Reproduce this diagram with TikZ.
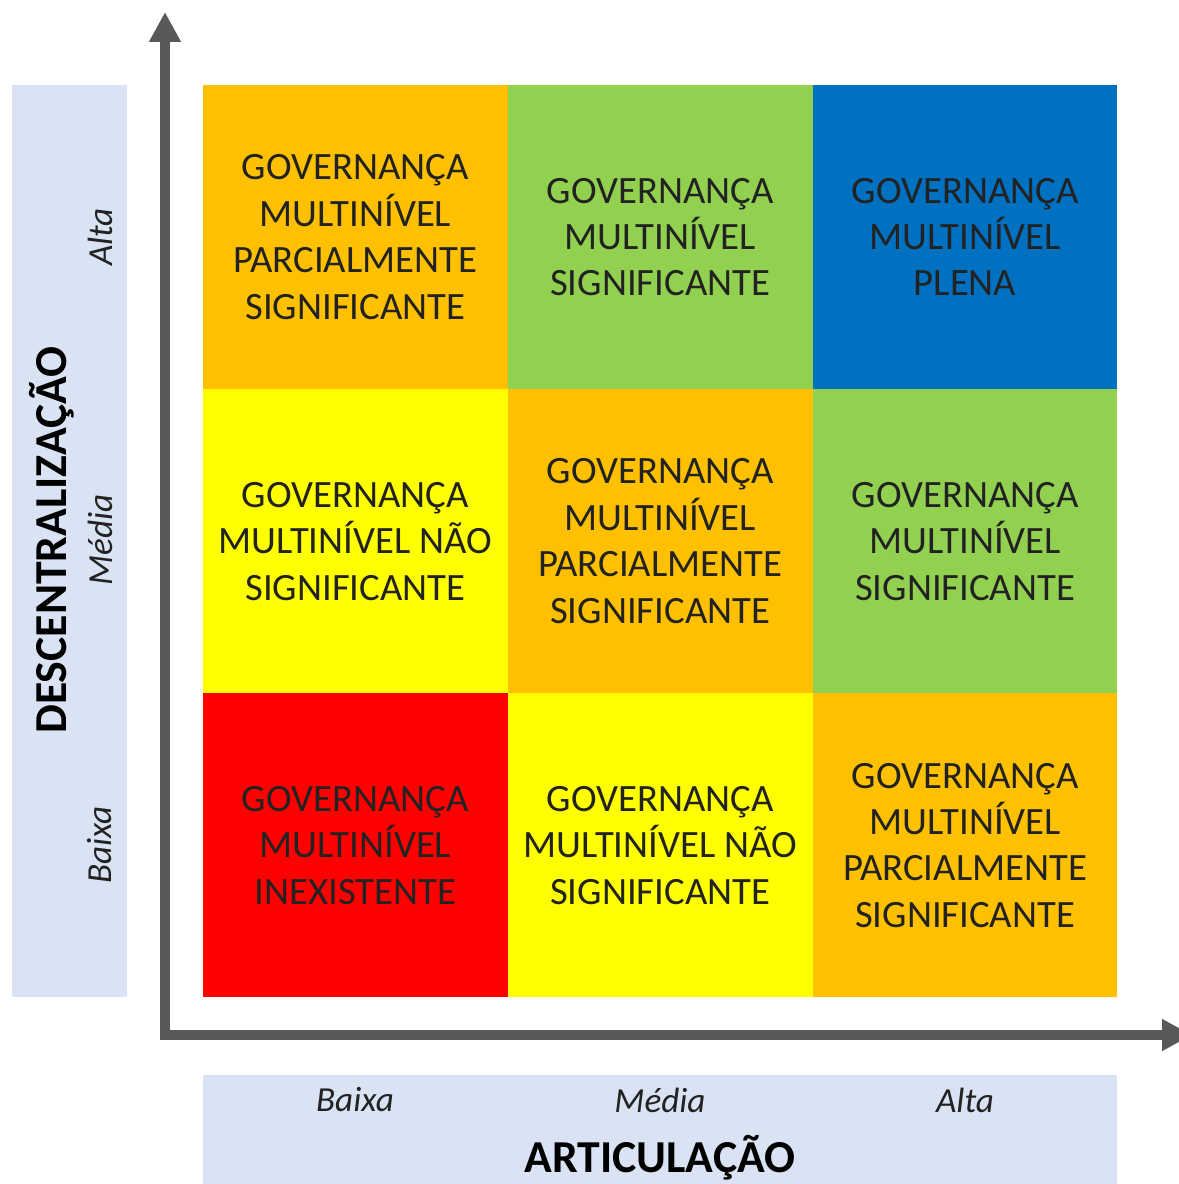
\documentclass[tikz,border=0pt]{standalone}
\usepackage{fontspec}
\setmainfont{Carlito}
\usetikzlibrary{arrows.meta,positioning}
\definecolor{laranja}{HTML}{FFC000}
\definecolor{verde}{HTML}{92D050}
\definecolor{azul}{HTML}{0070C0}
\definecolor{amarelo}{HTML}{FFFF00}
\definecolor{vermelho}{HTML}{FF0000}
\definecolor{faixa}{HTML}{DAE3F3}
\definecolor{cinza}{HTML}{595959}
\definecolor{texto}{HTML}{222222}
\tikzset{
  cell/.style={minimum width=3.047cm, minimum height=3.04cm, inner sep=0pt, outer sep=0pt,
    align=center, text=texto, font=\fontsize{11}{13.2}\selectfont},
  nivel/.style={text=texto, font=\fontsize{10}{12}\selectfont\itshape},
  eixotitulo/.style={text=black, font=\fontsize{13}{15}\selectfont\bfseries},
  eixo/.style={draw=cinza, line width=2.85pt,
    {Triangle[length=8.5pt,width=8.5pt]}-{Triangle[length=8.5pt,width=8.5pt]}}
}
\begin{document}
\begin{tikzpicture}[x=0.01cm,y=-0.01cm]
\useasboundingbox (0,0) rectangle (1179,1184);
% faixas dos eixos
\fill[faixa] (12,85) rectangle (127,997);
\fill[faixa] (203,1075) rectangle (1117,1184);
% matriz
\node[cell, fill=laranja] (a1) at (355.3,237) {GOVERNANÇA\\MULTINÍVEL\\PARCIALMENTE\\SIGNIFICANTE};
\node[cell, fill=verde, right=0pt of a1] (a2) {GOVERNANÇA\\MULTINÍVEL\\SIGNIFICANTE};
\node[cell, fill=azul, right=0pt of a2] (a3) {GOVERNANÇA\\MULTINÍVEL\\PLENA};
\node[cell, fill=amarelo, below=0pt of a1] (b1) {GOVERNANÇA\\MULTINÍVEL NÃO\\SIGNIFICANTE};
\node[cell, fill=laranja, right=0pt of b1] (b2) {GOVERNANÇA\\MULTINÍVEL\\PARCIALMENTE\\SIGNIFICANTE};
\node[cell, fill=verde, right=0pt of b2] (b3) {GOVERNANÇA\\MULTINÍVEL\\SIGNIFICANTE};
\node[cell, fill=vermelho, below=0pt of b1] (c1) {GOVERNANÇA\\MULTINÍVEL\\INEXISTENTE};
\node[cell, fill=amarelo, right=0pt of c1] (c2) {GOVERNANÇA\\MULTINÍVEL NÃO\\SIGNIFICANTE};
\node[cell, fill=laranja, right=0pt of c2] (c3) {GOVERNANÇA\\MULTINÍVEL\\PARCIALMENTE\\SIGNIFICANTE};
% eixos
\coordinate (topo) at (165,12);
\coordinate (origem) at (165,1035);
\coordinate (fim) at (1192,1035);
\draw[eixo] (topo) -- (origem) -- (fim);
% niveis
\node[nivel, rotate=90] (alta) at (100,237) {Alta};
\node[nivel, rotate=90] (mediav) at (100,540) {Média};
\node[nivel, rotate=90] (baixav) at (100,845) {Baixa};
\node[nivel] (baixah) at (355,1100) {Baixa};
\node[nivel] (mediah) at (660,1100) {Média};
\node[nivel] (altah) at (965,1100) {Alta};
\node[eixotitulo, rotate=90] (descentr) at (52,540) {DESCENTRALIZAÇÃO};
\node[eixotitulo] (artic) at (660,1158) {ARTICULAÇÃO};
\end{tikzpicture}
\end{document}
